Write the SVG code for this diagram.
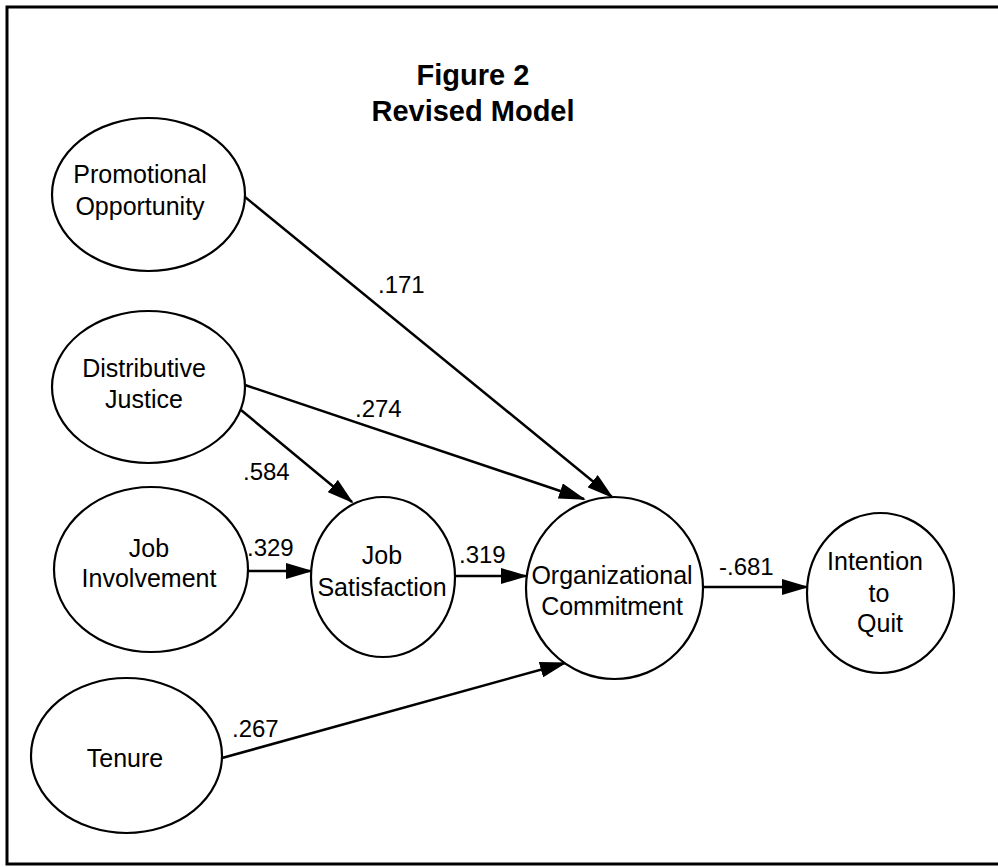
<svg xmlns="http://www.w3.org/2000/svg" width="998" height="867" viewBox="0 0 998 867">
<style>
  .node ellipse { fill: #fff; stroke: #000; stroke-width: 2.2; }
  .node text { font-family: "Liberation Sans", Arial, sans-serif; font-size: 25px; fill: #000; text-anchor: middle; }
  .title { font-family: "Liberation Sans", Arial, sans-serif; font-size: 29px; font-weight: bold; text-anchor: middle; fill: #000; }
  .edge { stroke: #000; stroke-width: 2.5; fill: none; marker-end: url(#arrow); }
  .lbl { font-family: "Liberation Sans", Arial, sans-serif; font-size: 24px; fill: #000; }
</style>
<defs>
  <marker id="arrow" viewBox="0 0 27 16" refX="25" refY="8" markerWidth="27" markerHeight="16" markerUnits="userSpaceOnUse" orient="auto">
    <path d="M0,0 L27,8 L0,16 z" fill="#000"/>
  </marker>
</defs>
<rect x="0" y="0" width="998" height="867" fill="#fff"/>
<rect id="frame" x="7" y="7" width="1000" height="857" fill="none" stroke="#000" stroke-width="3"/>

<g id="title">
  <text class="title" x="473" y="85">Figure 2</text>
  <text class="title" x="473" y="121">Revised Model</text>
</g>

<g id="connectors">
  <line class="edge" x1="245" y1="197" x2="612" y2="497"/>
  <line class="edge" x1="245" y1="385" x2="584" y2="499"/>
  <line class="edge" x1="241" y1="410" x2="352" y2="502"/>
  <line class="edge" x1="248" y1="571" x2="311" y2="571"/>
  <line class="edge" x1="455" y1="576" x2="526" y2="576"/>
  <line class="edge" x1="222" y1="758" x2="565" y2="663"/>
  <line class="edge" x1="703" y1="587" x2="807" y2="587"/>
  <text class="lbl" x="378" y="293">.171</text>
  <text class="lbl" x="355" y="417">.274</text>
  <text class="lbl" x="243" y="480">.584</text>
  <text class="lbl" x="247" y="556">.329</text>
  <text class="lbl" x="459" y="563">.319</text>
  <text class="lbl" x="232" y="737">.267</text>
  <text class="lbl" x="719" y="575">-.681</text>
</g>

<g id="promotional-opportunity" class="node">
  <ellipse cx="148.5" cy="194.5" rx="96.5" ry="76.5"/>
  <text x="140" y="183">Promotional</text>
  <text x="140" y="215">Opportunity</text>
</g>

<g id="distributive-justice" class="node">
  <ellipse cx="148.5" cy="387" rx="96.5" ry="76"/>
  <text x="144" y="377">Distributive</text>
  <text x="144" y="408">Justice</text>
</g>

<g id="job-involvement" class="node">
  <ellipse cx="151" cy="569.5" rx="97" ry="82.5"/>
  <text x="149" y="557">Job</text>
  <text x="149" y="587">Involvement</text>
</g>

<g id="job-satisfaction" class="node">
  <ellipse cx="383" cy="577" rx="72" ry="80"/>
  <text x="382" y="564">Job</text>
  <text x="382" y="596">Satisfaction</text>
</g>

<g id="tenure" class="node">
  <ellipse cx="126.5" cy="755.5" rx="95.5" ry="77.5"/>
  <text x="125" y="767">Tenure</text>
</g>

<g id="organizational-commitment" class="node">
  <ellipse cx="614.5" cy="588" rx="88.5" ry="91"/>
  <text x="612" y="584">Organizational</text>
  <text x="612" y="615">Commitment</text>
</g>

<g id="intention-to-quit" class="node">
  <ellipse cx="880.5" cy="593" rx="73.5" ry="80"/>
  <text x="875" y="570">Intention</text>
  <text x="879" y="602">to</text>
  <text x="880" y="632">Quit</text>
</g>
</svg>
